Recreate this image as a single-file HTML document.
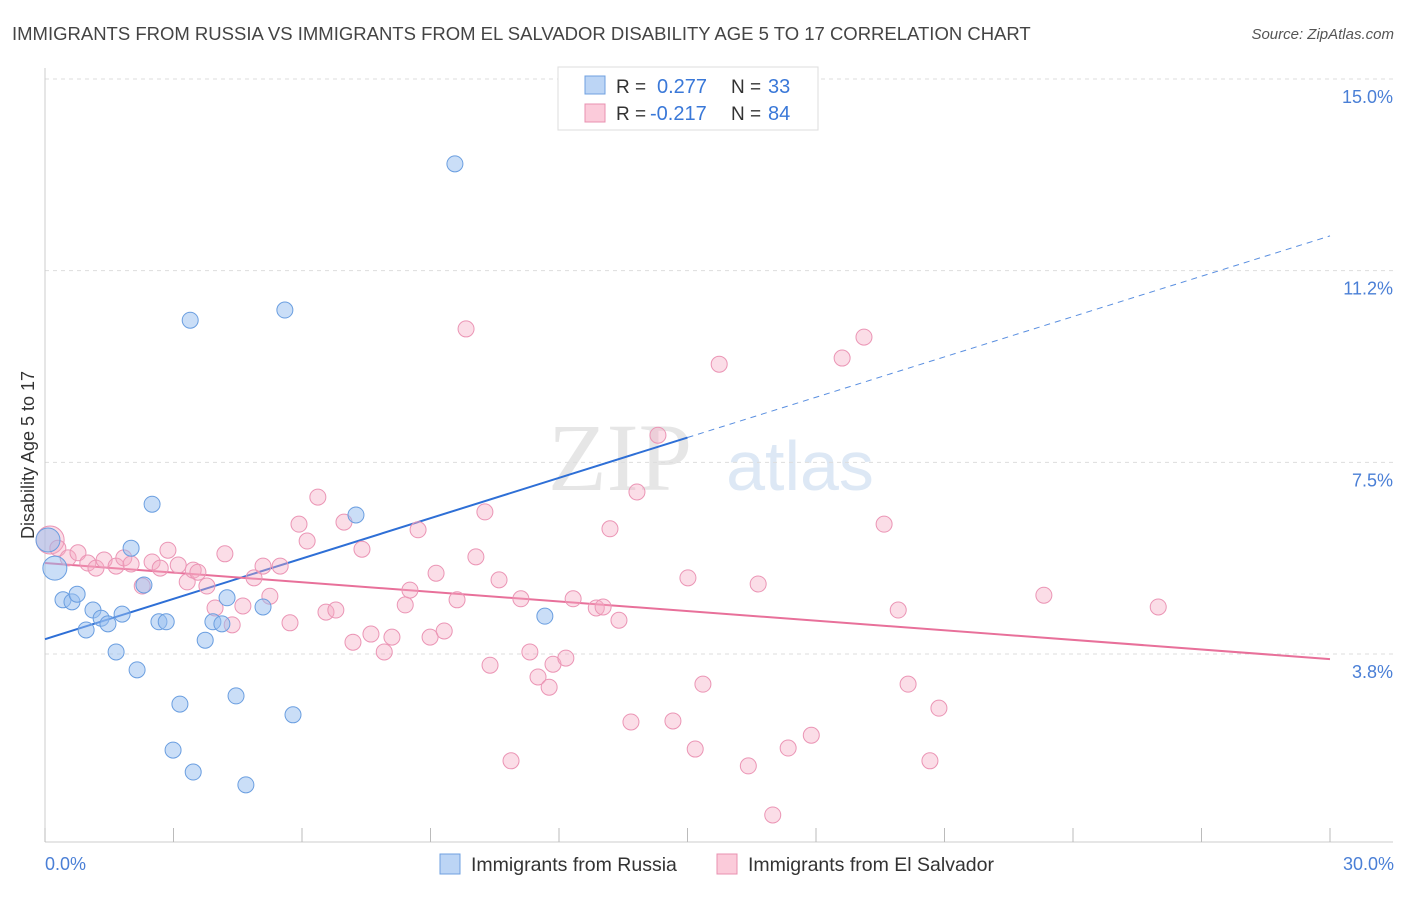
<!DOCTYPE html>
<html><head><meta charset="utf-8"><style>
body{margin:0;background:#fff;font-family:"Liberation Sans",sans-serif;}
</style></head><body>
<svg id="chart" width="1406" height="892" xmlns="http://www.w3.org/2000/svg">
<text x="12" y="40" font-size="18.5" fill="#444">IMMIGRANTS FROM RUSSIA VS IMMIGRANTS FROM EL SALVADOR DISABILITY AGE 5 TO 17 CORRELATION CHART</text>
<text x="1394" y="39" font-size="15" fill="#555" font-style="italic" text-anchor="end">Source: ZipAtlas.com</text>
<text x="620" y="490" font-size="96" fill="#e6e6e6" font-family="Liberation Serif" text-anchor="middle">ZIP</text>
<text x="800" y="490" font-size="70" fill="#dde8f5" text-anchor="middle">atlas</text>
<g id="grid"></g><g id="axes"></g><g id="trend"></g><g id="pts"></g>
<text transform="translate(34,455) rotate(-90)" font-size="18" fill="#333" text-anchor="middle">Disability Age 5 to 17</text>
<text x="45" y="870" font-size="18" fill="#4a7fd6">0.0%</text>
<text x="1394" y="870" font-size="18" fill="#4a7fd6" text-anchor="end">30.0%</text>
<g>
<rect x="558" y="67" width="260" height="63" fill="#fff" stroke="#ddd"/>
<rect x="585" y="76" width="20" height="18" fill="#bcd5f5" stroke="#6fa0e0"/>
<rect x="585" y="104" width="20" height="18" fill="#fbcbda" stroke="#e890b0"/>
<text x="616" y="93" font-size="19" fill="#333">R =</text>
<text x="657" y="93" font-size="20" fill="#3a78d8">0.277</text>
<text x="731" y="93" font-size="19" fill="#333">N =</text>
<text x="768" y="93" font-size="20" fill="#3a78d8">33</text>
<text x="616" y="120" font-size="19" fill="#333">R =</text>
<text x="650" y="120" font-size="20" fill="#3a78d8">-0.217</text>
<text x="731" y="120" font-size="19" fill="#333">N =</text>
<text x="768" y="120" font-size="20" fill="#3a78d8">84</text>
</g>
<g>
<rect x="440" y="854" width="20" height="20" fill="#bcd5f5" stroke="#6fa0e0"/>
<text x="471" y="871" font-size="19.5" fill="#333">Immigrants from Russia</text>
<rect x="717" y="854" width="20" height="20" fill="#fbcbda" stroke="#e890b0"/>
<text x="748" y="871" font-size="19.5" fill="#333">Immigrants from El Salvador</text>
</g>
</svg>
<script>
const yTicks=[15.0,11.25,7.5,3.75];
const yTickLabels=["15.0%","11.2%","7.5%","3.8%"];
const xTicks=[0,3,6,9,12,15,18,21,24,27,30];
const russiaX=[0.07,0.23,0.42,0.63,0.75,0.96,1.12,1.31,1.47,1.66,1.80,2.01,2.15,2.31,2.50,2.66,2.83,2.99,3.15,3.39,3.46,3.74,3.92,4.13,4.25,4.46,4.69,5.09,5.60,5.79,7.26,9.57,11.67];
const russiaY=[5.98,5.43,4.81,4.77,4.92,4.22,4.61,4.45,4.34,3.79,4.53,5.82,3.44,5.10,6.68,4.38,4.38,1.87,2.77,10.28,1.44,4.02,4.38,4.34,4.85,2.93,1.19,4.67,10.48,2.56,6.47,13.34,4.49];
const salvX=[0.12,0.30,0.54,0.77,1.00,1.19,1.38,1.66,1.84,2.01,2.27,2.50,2.69,2.87,3.11,3.32,3.46,3.57,3.78,3.97,4.20,4.37,4.62,4.88,5.09,5.25,5.49,5.72,5.93,6.12,6.37,6.56,6.79,6.98,7.19,7.40,7.61,7.92,8.10,8.41,8.52,8.71,8.99,9.13,9.32,9.62,9.83,10.06,10.27,10.39,10.60,10.88,11.11,11.32,11.51,11.77,11.86,12.16,12.33,12.87,13.03,13.19,13.40,13.68,13.82,14.31,14.66,15.01,15.18,15.36,15.74,16.42,16.65,16.99,17.35,17.89,18.61,19.12,19.59,19.92,20.15,20.66,20.87,23.32,25.99];
const salvY=[5.98,5.82,5.63,5.73,5.53,5.43,5.59,5.47,5.63,5.51,5.08,5.55,5.43,5.78,5.49,5.16,5.39,5.35,5.08,4.65,5.71,4.32,4.69,5.24,5.47,4.88,5.47,4.36,6.29,5.96,6.82,4.57,4.61,6.33,3.98,5.80,4.14,3.79,4.08,4.71,5.00,6.18,4.08,5.33,4.20,4.81,10.11,5.65,6.53,3.53,5.20,1.66,4.83,3.79,3.30,3.10,3.55,3.67,4.83,4.65,4.67,6.20,4.41,2.42,6.92,8.03,2.44,5.24,1.89,3.16,9.42,1.56,5.12,0.60,1.91,2.16,9.54,9.95,6.29,4.61,3.16,1.66,2.69,4.90,4.67];
const russiaTrend=[4.04,11.93];
const salvTrend=[5.53,3.65];
const NS="http://www.w3.org/2000/svg";
const X=v=>45+v/30*1285;
const Y=v=>79+(15-v)*51.11;
function mk(tag,attrs,parent){const e=document.createElementNS(NS,tag);for(const k in attrs)e.setAttribute(k,attrs[k]);document.getElementById(parent).appendChild(e);return e;}
yTicks.forEach((t,i)=>{
 const l=mk('line',{x1:45,x2:1393,y1:Y(t),y2:Y(t),stroke:'#ddd','stroke-dasharray':'4,4'},'grid');
 
 
 const tx=mk('text',{x:1393,y:Y(t)+24,'font-size':18,fill:'#4a7fd6','text-anchor':'end'},'grid');
 tx.textContent=yTickLabels[i];
 
 
});
const ya=mk('line',{x1:45,x2:45,y1:68,y2:842,stroke:'#ccc'},'axes');


const xa=mk('line',{x1:45,x2:1393,y1:842,y2:842,stroke:'#ccc'},'axes');


xTicks.forEach(t=>{
 const l=mk('line',{x1:X(t),x2:X(t),y1:828,y2:842,stroke:'#bbb'},'axes');
 
 
});
const slope=(russiaTrend[1]-russiaTrend[0])/30;
const rb=mk('line',{x1:X(0),y1:Y(russiaTrend[0]),x2:X(15),y2:Y(russiaTrend[0]+slope*15),stroke:'#2e6fd6','stroke-width':2},'trend');


const rd=mk('line',{x1:X(15),y1:Y(russiaTrend[0]+slope*15),x2:X(30),y2:Y(russiaTrend[1]),stroke:'#5a8fe0','stroke-width':1,'stroke-dasharray':'6,5'},'trend');


const st=mk('line',{x1:X(0),y1:Y(salvTrend[0]),x2:X(30),y2:Y(salvTrend[1]),stroke:'#e8709a','stroke-width':2},'trend');


salvX.forEach((x,i)=>{
 const c=mk('circle',{cx:X(x),cy:Y(salvY[i]),r:i==0?14:8,fill:'rgba(245,170,195,0.4)',stroke:'#eb95b5','stroke-width':1},'pts');
 
 
});
russiaX.forEach((x,i)=>{
 const c=mk('circle',{cx:X(x),cy:Y(russiaY[i]),r:i<2?12:8,fill:'rgba(150,190,240,0.5)',stroke:'#6a9ee0','stroke-width':1},'pts');
 
 
});
</script>
</body></html>
